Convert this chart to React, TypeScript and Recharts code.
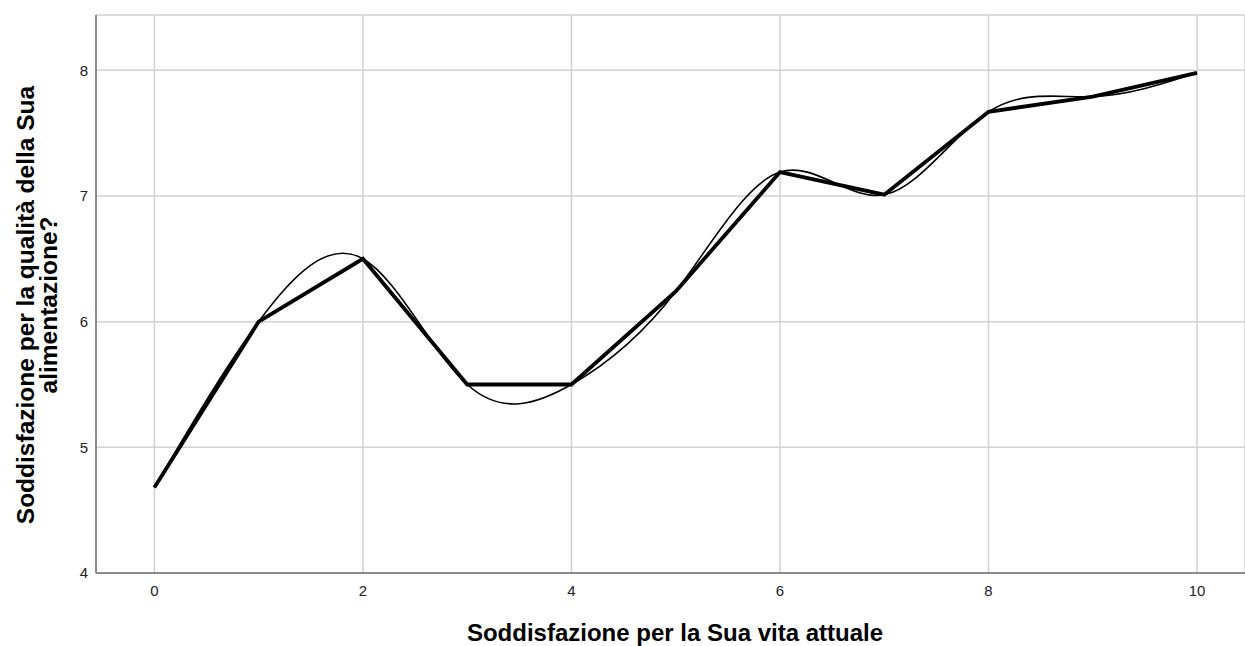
import React from "react";
import { LineChart, Line, XAxis, YAxis, CartesianGrid } from "recharts";

const xValues = [0, 1, 2, 3, 4, 5, 6, 7, 8, 9, 10];
const meanValues = [4.68, 6.0, 6.5, 5.5, 5.5, 6.24, 7.19, 7.01, 7.67, 7.79, 7.98];
const fitValues = [4.68, 6.0, 6.5, 5.5, 5.5, 6.24, 7.19, 7.01, 7.67, 7.79, 7.98];
const xTicks = [0, 2, 4, 6, 8, 10];
const yTicks = [4, 5, 6, 7, 8];

const xTitle = "Soddisfazione per la Sua vita attuale";
const yTitleLine1 = "Soddisfazione per la qualità della Sua";
const yTitleLine2 = "alimentazione?";

const data = xValues.map((x, i) => ({ x, mean: meanValues[i], fit: fitValues[i] }));

const FONT = "'Liberation Sans', Arial, Helvetica, sans-serif";

const YTitle = () => (
  <g>
    <text
      transform="translate(34,305) rotate(-90)"
      textAnchor="middle"
      fontFamily={FONT}
      fontWeight="bold"
      fontSize={24.5}
      fill="#000"
    >
      {yTitleLine1}
    </text>
    <text
      transform="translate(57,305) rotate(-90)"
      textAnchor="middle"
      fontFamily={FONT}
      fontWeight="bold"
      fontSize={24.5}
      fill="#000"
    >
      {yTitleLine2}
    </text>
  </g>
);

const XTitle = () => (
  <text x={675} y={641} textAnchor="middle" fontFamily={FONT} fontWeight="bold" fontSize={24} fill="#000">
    {xTitle}
  </text>
);

export default function App() {
  return (
    <div style={{ position: "absolute", left: 0, top: 0, width: 1245, height: 646, background: "#fff" }}>
      <LineChart width={1245} height={646} data={data} margin={{ top: 15, right: 0, bottom: 0, left: 0 }}>
        <CartesianGrid stroke="#d2d2d2" strokeWidth={1.5} />
        <XAxis
          type="number"
          dataKey="x"
          domain={[-0.56, 10.46]}
          ticks={xTicks}
          allowDataOverflow
          height={73}
          tickLine={false}
          tickMargin={6}
          axisLine={{ stroke: "#8c8c8c", strokeWidth: 2 }}
          tick={{ fill: "#222", fontSize: 15, fontFamily: FONT }}
          label={<XTitle />}
        />
        <YAxis
          type="number"
          domain={[4, 8.44]}
          ticks={yTicks}
          allowDataOverflow
          width={96}
          tickLine={false}
          axisLine={{ stroke: "#8c8c8c", strokeWidth: 2 }}
          tick={{ fill: "#222", fontSize: 15, fontFamily: FONT }}
          label={<YTitle />}
        />
        <Line
          type="natural"
          dataKey="fit"
          stroke="#000"
          strokeWidth={1.6}
          dot={false}
          isAnimationActive={false}
        />
        <Line
          type="linear"
          dataKey="mean"
          stroke="#000"
          strokeWidth={3.8}
          dot={false}
          isAnimationActive={false}
        />
      </LineChart>
    </div>
  );
}
